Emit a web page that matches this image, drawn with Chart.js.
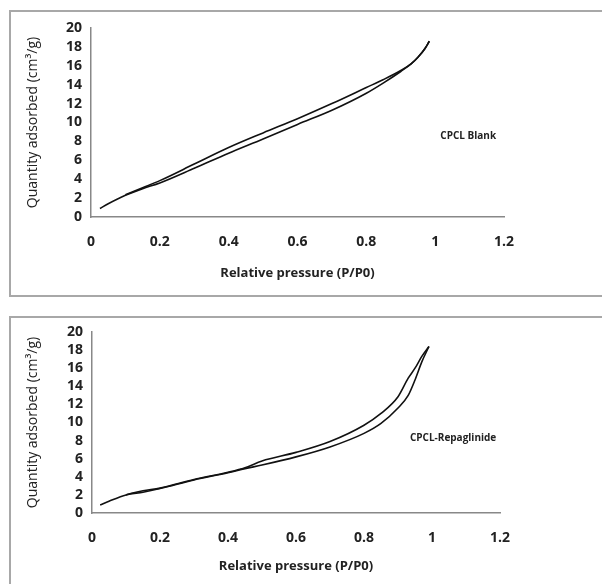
<!DOCTYPE html>
<html>
<head>
<meta charset="utf-8">
<script src="https://cdn.jsdelivr.net/npm/chart.js@4"></script>
<style>
  body { margin: 0; background: #fff; width: 602px; height: 584px; overflow: hidden; position: relative; }
  .panel { position: absolute; left: 9px; width: 640px; border: 2px solid #a8a8a8; box-sizing: border-box; }
  #p1 { top: 10px; height: 287px; }
  #p2 { top: 316px; height: 300px; }
  canvas { position: absolute; left: 0; }
  #c1 { top: 0; }
  #c2 { top: 300px; }
</style>
</head>
<body>
<div class="panel" id="p1"></div>
<div class="panel" id="p2"></div>
<canvas id="c1" width="602" height="300"></canvas>
<canvas id="c2" width="602" height="284"></canvas>
<script>
// CPCL Blank - adsorption (lower) and desorption (upper) branches
const blankAdsP = [0.026, 0.05, 0.1, 0.15, 0.2, 0.3, 0.4, 0.5, 0.6, 0.7, 0.8, 0.85, 0.9, 0.93, 0.95, 0.97, 0.983];
const blankAdsV = [0.9, 1.4, 2.3, 3.0, 3.6, 5.15, 6.75, 8.25, 9.8, 11.3, 13.1, 14.2, 15.4, 16.2, 16.9, 17.8, 18.6];
const blankDesP = [0.1, 0.15, 0.2, 0.3, 0.4, 0.5, 0.6, 0.7, 0.8, 0.85, 0.9, 0.93, 0.95, 0.97, 0.983];
const blankDesV = [2.35, 3.1, 3.85, 5.6, 7.35, 8.9, 10.4, 12.0, 13.7, 14.55, 15.5, 16.2, 16.9, 17.8, 18.6];

// CPCL-Repaglinide
const repaAdsP = [0.024, 0.05, 0.1, 0.15, 0.2, 0.3, 0.4, 0.45, 0.5, 0.6, 0.7, 0.8, 0.85, 0.9, 0.93, 0.95, 0.97, 0.991];
const repaAdsV = [0.88, 1.3, 2.0, 2.3, 2.7, 3.65, 4.45, 4.9, 5.3, 6.2, 7.3, 8.8, 9.9, 11.6, 13.0, 14.7, 16.7, 18.4];
const repaDesP = [0.1, 0.12, 0.15, 0.2, 0.3, 0.4, 0.45, 0.5, 0.6, 0.7, 0.8, 0.85, 0.9, 0.93, 0.95, 0.97, 0.991];
const repaDesV = [2.0, 2.2, 2.45, 2.75, 3.7, 4.5, 5.0, 5.75, 6.7, 7.9, 9.7, 11.0, 12.85, 14.9, 16.0, 17.3, 18.4];

const xTicks = [0, 0.2, 0.4, 0.6, 0.8, 1, 1.2];
const yTicks = [0, 2, 4, 6, 8, 10, 12, 14, 16, 18, 20];

const tickFont = { family: "'Open Sans', sans-serif", size: 14, weight: 'bold' };
const titleFont = { family: "'Open Sans', sans-serif", size: 13, weight: 'bold' };

function pts(xs, ys) {
    return xs.map((x, i) => ({ x: x, y: ys[i] }));
}

function lineSet(xs, ys) {
    return {
        data: pts(xs, ys),
        borderColor: '#111',
        borderWidth: 1.6,
        pointRadius: 0,
        fill: false,
        cubicInterpolationMode: 'monotone'
    };
}

// plugin that writes the sample name inside the plot
const labelPlugin = {
    id: 'sampleLabel',
    afterDraw(chart, args, opts) {
        const ctx = chart.ctx;
        const x = chart.scales.x.getPixelForValue(opts.x);
        const y = chart.scales.y.getPixelForValue(opts.y);
        ctx.save();
        ctx.font = "bold 10px 'Open Sans', sans-serif";
        ctx.fillStyle = '#222';
        ctx.textAlign = 'center';
        ctx.textBaseline = 'middle';
        ctx.fillText(opts.text, x, y);
        ctx.restore();
    }
};

function makeChart(id, ads, des, pad, label, yWidth, xHeight, titlePad) {
    return new Chart(document.getElementById(id), {
        type: 'line',
        data: { datasets: [ads, des] },
        plugins: [labelPlugin],
        options: {
            responsive: false,
            animation: false,
            layout: { padding: pad },
            plugins: {
                legend: { display: false },
                tooltip: { enabled: false },
                sampleLabel: label
            },
            scales: {
                x: {
                    type: 'linear',
                    min: 0, max: 1.2,
                    afterBuildTicks: s => { s.ticks = xTicks.map(v => ({ value: v })); },
                    afterFit: s => { s.height = xHeight; },
                    grid: { display: false, drawOnChartArea: false, tickLength: 5, tickColor: '#888' },
                    border: { color: '#888', width: 1.5 },
                    ticks: { color: '#222', font: tickFont, padding: 12, maxRotation: 0, autoSkip: false, callback: v => String(v) },
                    title: { display: true, text: 'Relative pressure (P/P0)', color: '#222', font: titleFont, padding: { top: 0, bottom: titlePad } }
                },
                y: {
                    min: 0, max: 20,
                    afterBuildTicks: s => { s.ticks = yTicks.map(v => ({ value: v })); },
                    afterFit: s => { s.width = yWidth; },
                    grid: { display: false, drawOnChartArea: false, tickLength: 5, tickColor: '#888' },
                    border: { color: '#888', width: 1.5 },
                    ticks: { color: '#222', font: tickFont, padding: 4, autoSkip: false },
                    title: { display: true, text: 'Quantity adsorbed (cm³/g)', color: '#222', font: { family: "'Open Sans', sans-serif", size: 14 }, padding: { top: 25, bottom: 0 } }
                }
            }
        }
    });
}

makeChart('c1', lineSet(blankAdsP, blankAdsV), lineSet(blankDesP, blankDesV),
    { left: 0, right: 98, top: 28, bottom: 0 },
    { text: 'CPCL Blank', x: 1.096, y: 8.6 }, 91, 83, 19);

makeChart('c2', lineSet(repaAdsP, repaAdsV), lineSet(repaDesP, repaDesV),
    { left: 0, right: 102, top: 32, bottom: 0 },
    { text: 'CPCL-Repaglinide', x: 1.062, y: 8.3 }, 92, 71, 10);
</script>
</body>
</html>
